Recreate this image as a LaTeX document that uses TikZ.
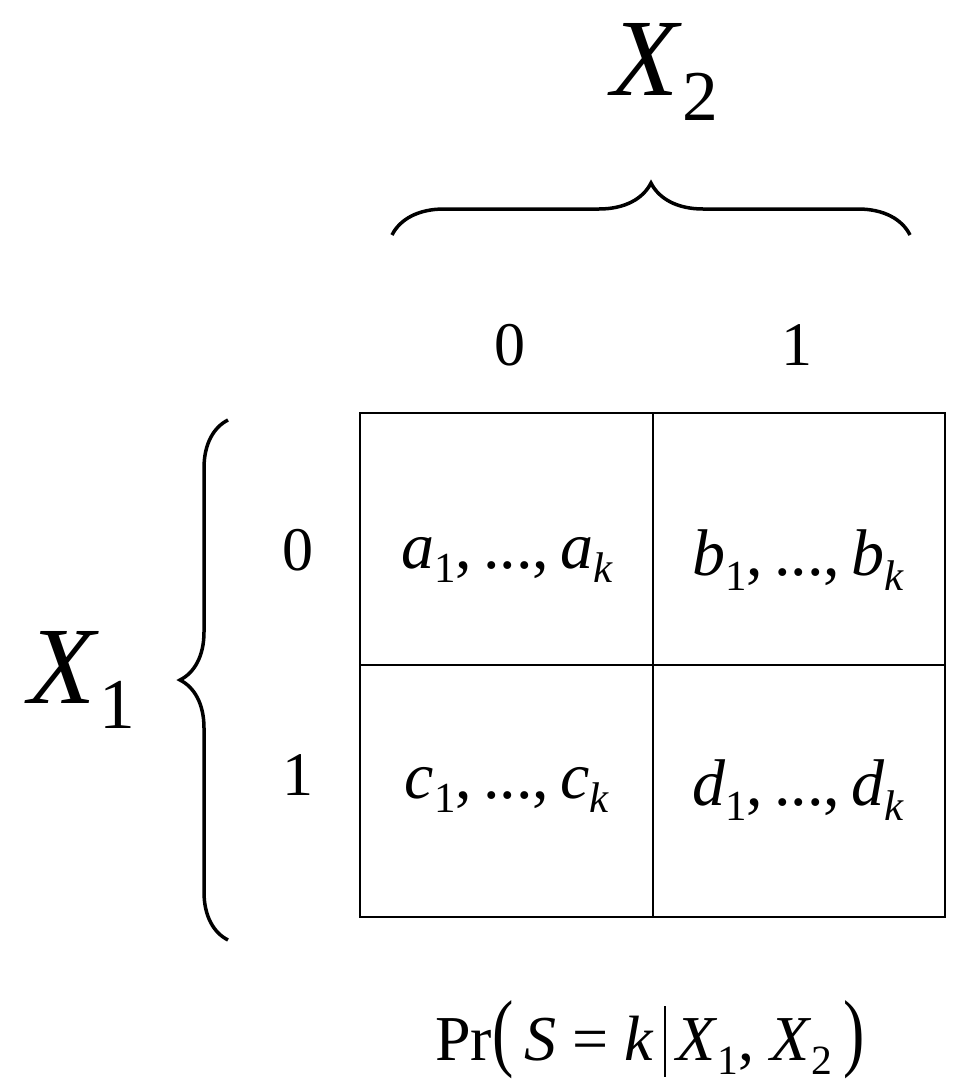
\documentclass[tikz,border=0pt]{standalone}
\usepackage{fontspec}
\usepackage{graphicx}
\setmainfont{Liberation Serif}
\usetikzlibrary{decorations.pathreplacing}
\newcommand\lo[1]{\raisebox{-0.22em}{\scalebox{0.65}{#1}}}
\newcommand\fs[1]{\fontsize{#1}{#1}\selectfont}
\begin{document}
\begin{tikzpicture}[x=1pt,y=-1pt,
  brace/.style={decorate,decoration={brace,amplitude=#1},line width=3.5pt},
  lab/.style={inner sep=0pt,font=\fs{62}},
  cell/.style={inner sep=0pt,font=\fs{66}}]
\useasboundingbox (0,0) rectangle (969,1089);
\draw[line width=2pt] (360,413) rectangle (945,917);
\draw[line width=2pt] (653,413) -- (653,917);
\draw[line width=2pt] (360,665) -- (945,665);
\coordinate (tb1) at (392,235); \coordinate (tb2) at (910,235);
\draw[brace=52] (tb1) -- (tb2);
\coordinate (lb1) at (228,940); \coordinate (lb2) at (228,420);
\draw[brace=48] (lb1) -- (lb2);
\node[inner sep=0pt,font=\fs{110}] (x2) at (665,72) {\textit{X}\lo{2}};
\node[inner sep=0pt,font=\fs{110}] (x1) at (82,680) {\textit{X}\lo{1}};
\node[lab] (c0) at (510,345) {0};
\node[lab] (c1) at (797,345) {1};
\node[lab] (r0) at (298,550) {0};
\node[lab] (r1) at (298,775) {1};
\node[cell] (a) at (507,560) {\textit{a}\lo{1},\,...,\,\textit{a}\lo{\textit{k}}};
\node[cell] (b) at (798,560) {\textit{b}\lo{1},\,...,\,\textit{b}\lo{\textit{k}}};
\node[cell] (c) at (507,790) {\textit{c}\lo{1},\,...,\,\textit{c}\lo{\textit{k}}};
\node[cell] (d) at (798,790) {\textit{d}\lo{1},\,...,\,\textit{d}\lo{\textit{k}}};
\node[inner sep=0pt,font=\fs{64}] (pr) at (650,1040) {Pr\scalebox{1}[1.35]{(}\,\textit{S} = \textit{k}\,\rule[-0.25em]{1.8pt}{1.1em}\,\textit{X}\lo{1}, \textit{X}\lo{2}\,\scalebox{1}[1.35]{)}};
\end{tikzpicture}
\end{document}
